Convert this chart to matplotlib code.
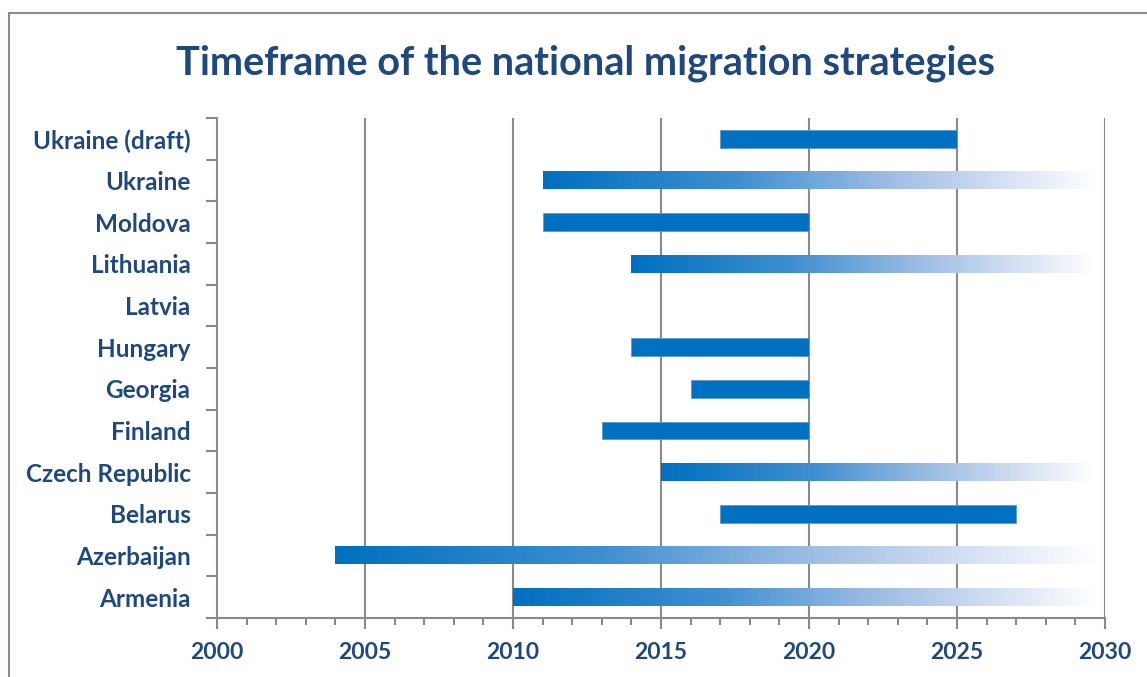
import numpy as np
import matplotlib
matplotlib.use("Agg")
import matplotlib.pyplot as plt
from matplotlib.colors import LinearSegmentedColormap
from matplotlib.patches import Rectangle

# ---- data ----
countries = ["Armenia", "Azerbaijan", "Belarus", "Czech Republic", "Finland",
             "Georgia", "Hungary", "Latvia", "Lithuania", "Moldova",
             "Ukraine", "Ukraine (draft)"]
start_year = [2010, 2004, 2017, 2015, 2013, 2016, 2014, np.nan, 2014, 2011, 2011, 2017]
end_year = [2030, 2030, 2027, 2030, 2020, 2020, 2020, np.nan, 2030, 2020, 2030, 2025]
open_ended = [True, True, False, True, False, False, False, False, True, False, True, False]
x_ticks = [2000, 2005, 2010, 2015, 2020, 2025, 2030]
title = "Timeframe of the national migration strategies"

text_color = "#1F497D"
bar_color = "#0070C0"
grid_color = "#898989"

plt.rcParams['font.family'] = ['Lato', 'DejaVu Sans']

fig = plt.figure(figsize=(11.47, 6.77), dpi=100)
W, H = 1147, 677
ax = fig.add_axes([217 / W, 1 - 618 / H, (1105 - 217) / W, (618 - 118) / H])

# outer border (chart area frame)
fig.patches.append(Rectangle((9 / W, -0.1), 1.2, 1 - 13 / H + 0.1, transform=fig.transFigure,
                             fill=False, edgecolor="#8C8C8C", linewidth=1.5, zorder=0))

cmap = LinearSegmentedColormap.from_list(
    "fade", [(0.0, "#0070C0"), (0.35, "#3F8FD0"), (0.6, "#95B9E2"),
             (0.8, "#CCDAF0"), (1.0, "#FFFFFF")])
grad = np.linspace(0, 1, 256).reshape(1, -1)

bar_h = 0.42
ypos = np.arange(len(countries))
for y, s, e, fade in zip(ypos, start_year, end_year, open_ended):
    if np.isnan(s):
        continue
    if fade:
        ax.imshow(grad, extent=[s, e - 0.35, y - bar_h / 2, y + bar_h / 2],
                  aspect='auto', cmap=cmap, interpolation='bilinear', zorder=3)
    else:
        ax.barh(y, e - s, left=s, height=bar_h, color=bar_color,
                edgecolor="#5B9BD5", linewidth=0.6, zorder=3)

ax.set_xlim(2000, 2030)
ax.set_ylim(-0.5, len(countries) - 0.5)
ax.set_aspect('auto')

ax.set_xticks(x_ticks)
ax.set_xticks(np.arange(2000, 2031, 1), minor=True)
ax.set_xticklabels([str(t) for t in x_ticks], fontsize=16.5, fontweight='bold', color=text_color)
ax.tick_params(axis='x', which='major', direction='out', length=8, width=1.5,
               color=grid_color, pad=9)
ax.tick_params(axis='x', which='minor', direction='out', length=5, width=1.5, color=grid_color)

ax.set_yticks(ypos)
ax.set_yticklabels(countries, fontsize=17.5, fontweight='bold', color=text_color)
ax.set_yticks(np.arange(-0.5, len(countries), 1), minor=True)
ax.tick_params(axis='y', which='major', length=0, pad=19)
ax.tick_params(axis='y', which='minor', direction='out', length=8, width=1.5, color=grid_color)

for gx in x_ticks[1:]:
    ax.axvline(gx, color=grid_color, linewidth=1.5, zorder=1)

for side in ['top', 'right']:
    ax.spines[side].set_visible(False)
for side in ['left', 'bottom']:
    ax.spines[side].set_color(grid_color)
    ax.spines[side].set_linewidth(1.5)

fig.text(586 / W, 1 - 63 / H, title, ha='center', va='center', fontsize=28.5,
         fontweight='bold', color=text_color)

fig.savefig("out.png", dpi=100)
